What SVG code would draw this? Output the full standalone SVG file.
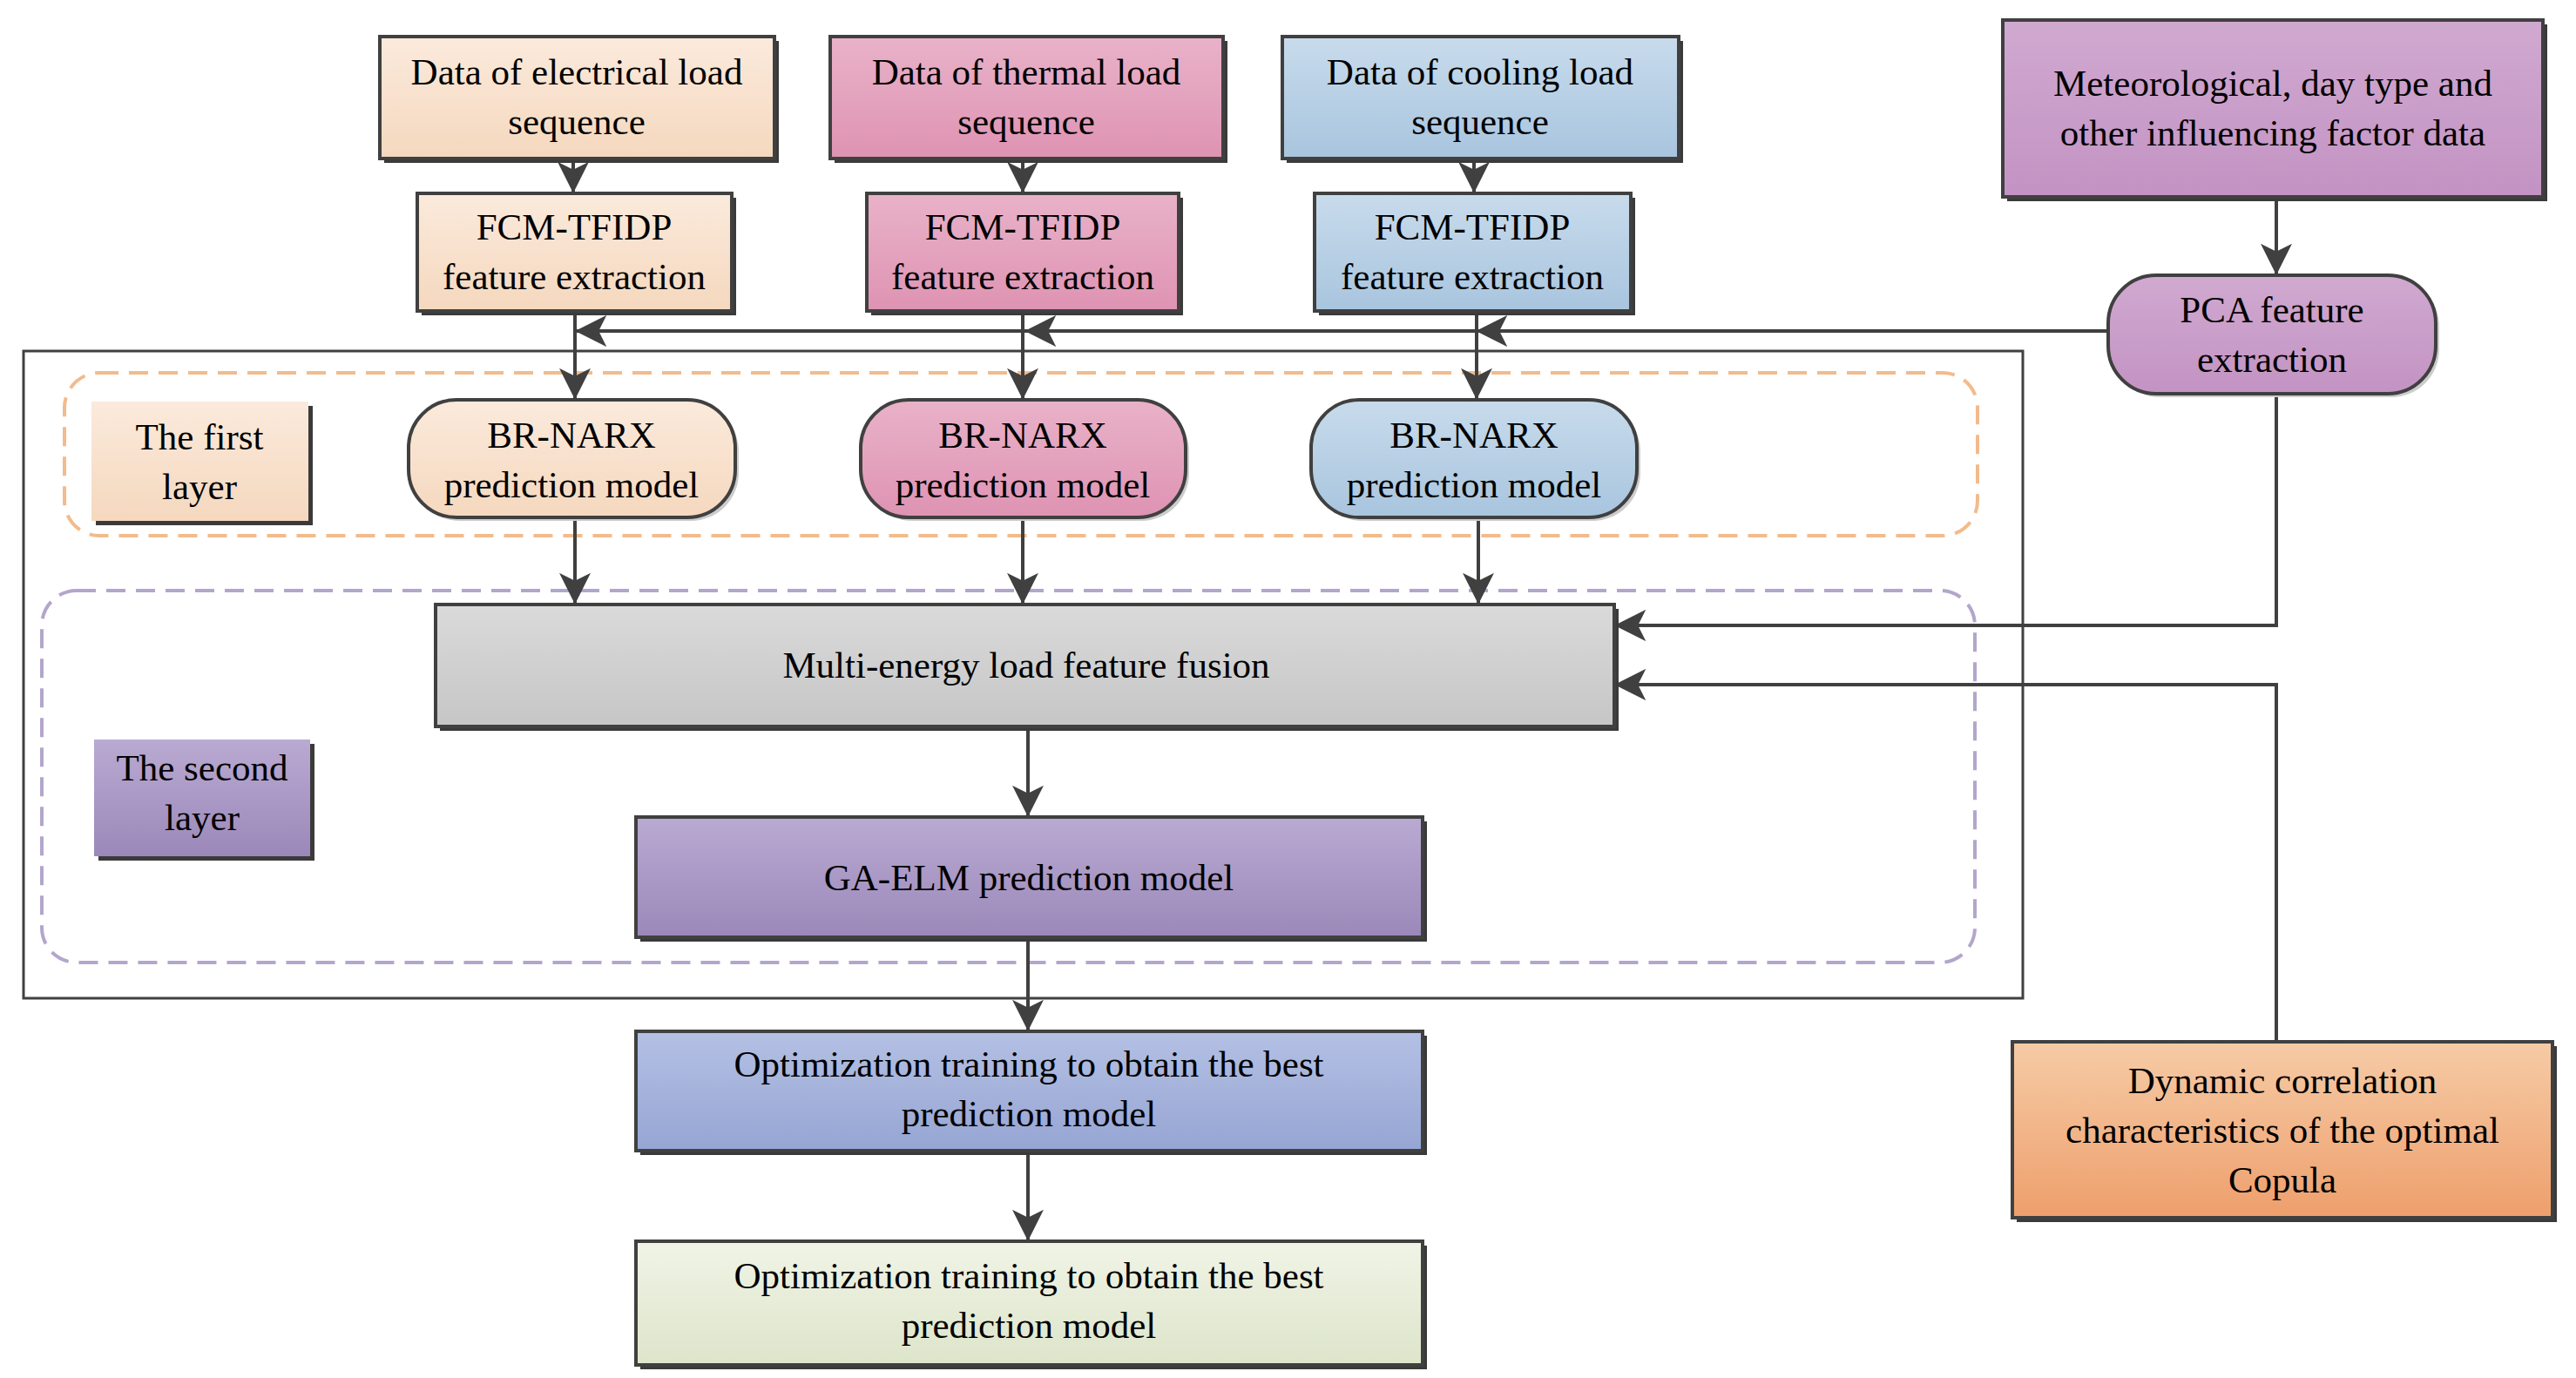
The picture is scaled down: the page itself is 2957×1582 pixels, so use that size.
<svg xmlns="http://www.w3.org/2000/svg" width="2957" height="1582" viewBox="0 0 2957 1582">
<style>
.b{stroke:#404040;stroke-width:4}
.sh{fill:#3a3a3a}
.t{font-family:"Liberation Serif","Times New Roman",serif;font-size:43px;fill:#000;text-anchor:middle}
.c{fill:none;stroke:#404040;stroke-width:4}
</style>
<defs>
<marker id="a" viewBox="0 0 20 20" refX="19" refY="10" markerWidth="9" markerHeight="9" markerUnits="strokeWidth" orient="auto"><path d="M0,0 L20,10 L0,20 L5,10 Z" fill="#404040"/></marker>
<linearGradient id="ge" x1="0" y1="0" x2="0" y2="1"><stop offset="0" stop-color="#fbeadc"/><stop offset="1" stop-color="#f5d8be"/></linearGradient>
<linearGradient id="gt" x1="0" y1="0" x2="0" y2="1"><stop offset="0" stop-color="#e9b2c9"/><stop offset="1" stop-color="#de93b2"/></linearGradient>
<linearGradient id="gc" x1="0" y1="0" x2="0" y2="1"><stop offset="0" stop-color="#c8dbec"/><stop offset="1" stop-color="#a8c5de"/></linearGradient>
<linearGradient id="gm" x1="0" y1="0" x2="0" y2="1"><stop offset="0" stop-color="#d0a9d0"/><stop offset="1" stop-color="#c393c3"/></linearGradient>
<linearGradient id="gg" x1="0" y1="0" x2="0" y2="1"><stop offset="0" stop-color="#dadada"/><stop offset="1" stop-color="#c6c6c6"/></linearGradient>
<linearGradient id="gp" x1="0" y1="0" x2="0" y2="1"><stop offset="0" stop-color="#b9aad2"/><stop offset="1" stop-color="#9b88b9"/></linearGradient>
<linearGradient id="go" x1="0" y1="0" x2="0" y2="1"><stop offset="0" stop-color="#b4c0e4"/><stop offset="1" stop-color="#96a5d3"/></linearGradient>
<linearGradient id="gv" x1="0" y1="0" x2="0" y2="1"><stop offset="0" stop-color="#f0f4e6"/><stop offset="1" stop-color="#dde5ca"/></linearGradient>
<linearGradient id="gk" x1="0" y1="0" x2="0" y2="1"><stop offset="0" stop-color="#f6cba6"/><stop offset="1" stop-color="#ee9f6c"/></linearGradient>
</defs>
<rect width="2957" height="1582" fill="#fff"/>
<g id="containers">
<rect x="27" y="403" width="2295" height="743" fill="none" stroke="#404040" stroke-width="3"/>
<rect x="74" y="428" width="2196" height="187" rx="40" fill="none" stroke="#f2bb8c" stroke-width="4" stroke-dasharray="22,12"/>
<rect x="48" y="678" width="2219" height="427" rx="40" fill="none" stroke="#b3a6cc" stroke-width="4" stroke-dasharray="22,12"/>
</g>
<g id="connectors">
<path class="c" d="M658,182 V220" marker-end="url(#a)"/>
<path class="c" d="M1174,182 V220" marker-end="url(#a)"/>
<path class="c" d="M1692,182 V220" marker-end="url(#a)"/>
<path class="c" d="M2613,226 V314" marker-end="url(#a)"/>
<path class="c" d="M2420,380 H662" marker-end="url(#a)"/>
<path class="c" d="M1400,380 H1178" marker-end="url(#a)"/>
<path class="c" d="M2000,380 H1696" marker-end="url(#a)"/>
<path class="c" d="M660,357 V457" marker-end="url(#a)"/>
<path class="c" d="M1174,357 V457" marker-end="url(#a)"/>
<path class="c" d="M1695,357 V457" marker-end="url(#a)"/>
<path class="c" d="M660,594 V692" marker-end="url(#a)"/>
<path class="c" d="M1174,594 V692" marker-end="url(#a)"/>
<path class="c" d="M1697,594 V692" marker-end="url(#a)"/>
<path class="c" d="M2613,452 V718 H1855" marker-end="url(#a)"/>
<path class="c" d="M2613,1196 V786 H1855" marker-end="url(#a)"/>
<path class="c" d="M1180,834 V936" marker-end="url(#a)"/>
<path class="c" d="M1180,1076 V1182" marker-end="url(#a)"/>
<path class="c" d="M1180,1321 V1423" marker-end="url(#a)"/>
</g>
<g id="n-elec-data"><rect class="sh" x="441" y="47" width="453" height="140"/><rect class="b" x="436" y="42" width="453" height="140" fill="url(#ge)"/><text class="t" x="662" y="97">Data of electrical load</text><text class="t" x="662" y="154">sequence</text></g>
<g id="n-therm-data"><rect class="sh" x="958" y="47" width="451" height="140"/><rect class="b" x="953" y="42" width="451" height="140" fill="url(#gt)"/><text class="t" x="1178" y="97">Data of thermal load</text><text class="t" x="1178" y="154">sequence</text></g>
<g id="n-cool-data"><rect class="sh" x="1477" y="47" width="455" height="140"/><rect class="b" x="1472" y="42" width="455" height="140" fill="url(#gc)"/><text class="t" x="1699" y="97">Data of cooling load</text><text class="t" x="1699" y="154">sequence</text></g>
<g id="n-meteo"><rect class="sh" x="2304" y="28" width="620" height="203"/><rect class="b" x="2299" y="23" width="620" height="203" fill="url(#gm)"/><text class="t" x="2609" y="110">Meteorological, day type and</text><text class="t" x="2609" y="167">other influencing factor data</text></g>
<g id="n-fcm-e"><rect class="sh" x="484" y="227" width="361" height="135"/><rect class="b" x="479" y="222" width="361" height="135" fill="url(#ge)"/><text class="t" x="659" y="275">FCM-TFIDP</text><text class="t" x="659" y="332">feature extraction</text></g>
<g id="n-fcm-t"><rect class="sh" x="1000" y="227" width="358" height="135"/><rect class="b" x="995" y="222" width="358" height="135" fill="url(#gt)"/><text class="t" x="1174" y="275">FCM-TFIDP</text><text class="t" x="1174" y="332">feature extraction</text></g>
<g id="n-fcm-c"><rect class="sh" x="1514" y="227" width="363" height="135"/><rect class="b" x="1509" y="222" width="363" height="135" fill="url(#gc)"/><text class="t" x="1690" y="275">FCM-TFIDP</text><text class="t" x="1690" y="332">feature extraction</text></g>
<g id="n-pca"><rect x="2424" y="320" width="376" height="136" rx="55" fill="#ccc"/><rect class="b" x="2420" y="316" width="376" height="136" rx="55" fill="url(#gm)"/><text class="t" x="2608" y="370">PCA feature</text><text class="t" x="2608" y="427">extraction</text></g>
<g id="n-layer1"><rect class="sh" x="110" y="466" width="249" height="137"/><rect x="105" y="461" width="249" height="137" fill="url(#ge)"/><text class="t" x="229" y="516">The first</text><text class="t" x="229" y="573">layer</text></g>
<g id="n-br-e"><rect x="473" y="463" width="375" height="135" rx="55" fill="#ccc"/><rect class="b" x="469" y="459" width="375" height="135" rx="55" fill="url(#ge)"/><text class="t" x="656" y="514">BR-NARX</text><text class="t" x="656" y="571">prediction model</text></g>
<g id="n-br-t"><rect x="992" y="463" width="373" height="135" rx="55" fill="#ccc"/><rect class="b" x="988" y="459" width="373" height="135" rx="55" fill="url(#gt)"/><text class="t" x="1174" y="514">BR-NARX</text><text class="t" x="1174" y="571">prediction model</text></g>
<g id="n-br-c"><rect x="1509" y="463" width="374" height="135" rx="55" fill="#ccc"/><rect class="b" x="1505" y="459" width="374" height="135" rx="55" fill="url(#gc)"/><text class="t" x="1692" y="514">BR-NARX</text><text class="t" x="1692" y="571">prediction model</text></g>
<g id="n-fusion"><rect class="sh" x="505" y="699" width="1353" height="140"/><rect class="b" x="500" y="694" width="1353" height="140" fill="url(#gg)"/><text class="t" x="1178" y="778">Multi-energy load feature fusion</text></g>
<g id="n-layer2"><rect class="sh" x="113" y="854" width="248" height="134"/><rect x="108" y="849" width="248" height="134" fill="url(#gp)"/><text class="t" x="232" y="896">The second</text><text class="t" x="232" y="953">layer</text></g>
<g id="n-gaelm"><rect class="sh" x="735" y="943" width="903" height="138"/><rect class="b" x="730" y="938" width="903" height="138" fill="url(#gp)"/><text class="t" x="1181" y="1022">GA-ELM prediction model</text></g>
<g id="n-opt1"><rect class="sh" x="735" y="1189" width="903" height="137"/><rect class="b" x="730" y="1184" width="903" height="137" fill="url(#go)"/><text class="t" x="1181" y="1236">Optimization training to obtain the best</text><text class="t" x="1181" y="1293">prediction model</text></g>
<g id="n-opt2"><rect class="sh" x="735" y="1430" width="903" height="142"/><rect class="b" x="730" y="1425" width="903" height="142" fill="url(#gv)"/><text class="t" x="1181" y="1479">Optimization training to obtain the best</text><text class="t" x="1181" y="1536">prediction model</text></g>
<g id="n-copula"><rect class="sh" x="2315" y="1201" width="620" height="202"/><rect class="b" x="2310" y="1196" width="620" height="202" fill="url(#gk)"/><text class="t" x="2620" y="1255">Dynamic correlation</text><text class="t" x="2620" y="1312">characteristics of the optimal</text><text class="t" x="2620" y="1369">Copula</text></g>
</svg>
